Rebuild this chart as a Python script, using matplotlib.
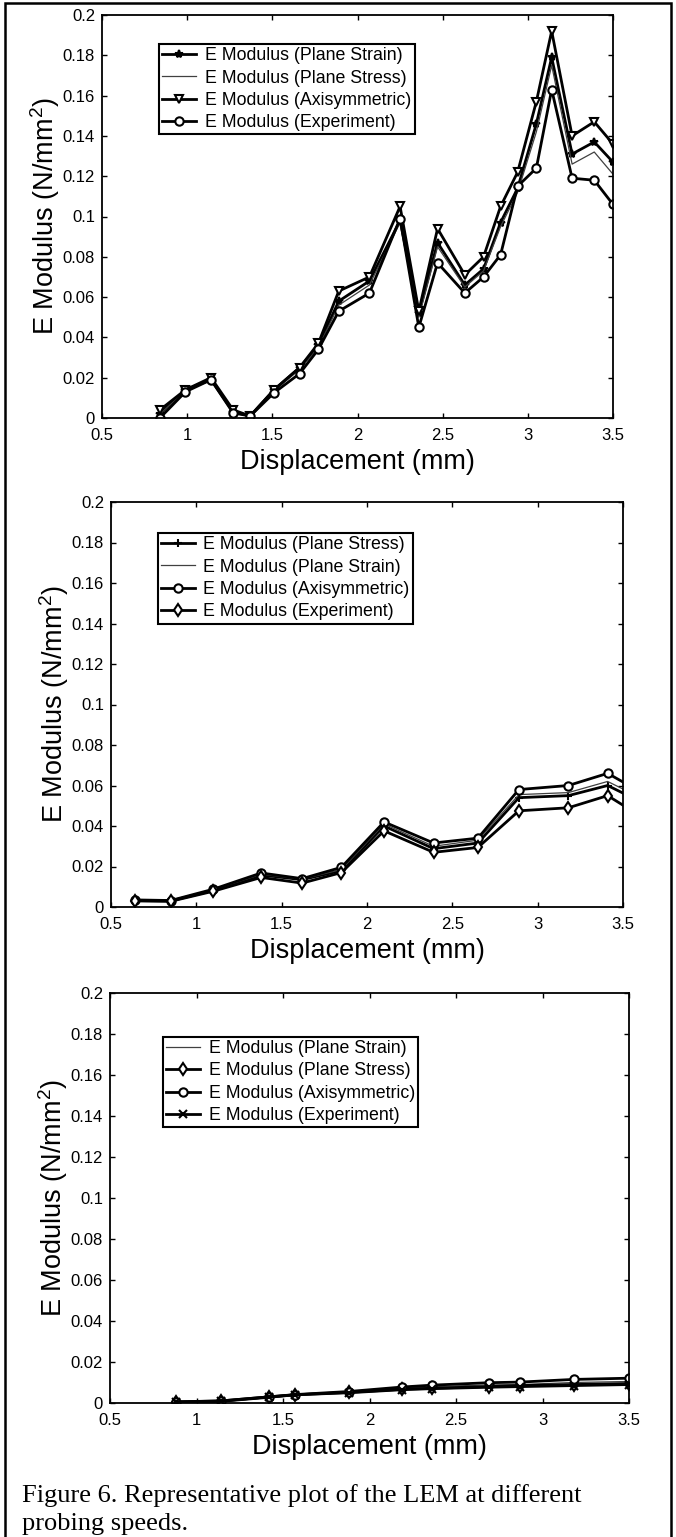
import matplotlib
matplotlib.use("Agg")
import matplotlib.pyplot as plt
from matplotlib.patches import Rectangle
from matplotlib.ticker import FormatStrFormatter, MultipleLocator

plt.rcParams['font.family'] = ['Liberation Sans', 'DejaVu Sans']
plt.rcParams['mathtext.fontset'] = 'custom'
plt.rcParams['mathtext.rm'] = 'Liberation Sans'
plt.rcParams['mathtext.it'] = 'Liberation Sans:italic'

# top panel
x_top = [0.84, 0.99, 1.14, 1.27, 1.37, 1.51, 1.66, 1.77, 1.89, 2.07, 2.25,
         2.36, 2.47, 2.63, 2.74, 2.84, 2.94, 3.05, 3.14, 3.26, 3.39, 3.50]
strain_top = [0.002, 0.014, 0.019, 0.003, 0.001, 0.014, 0.025, 0.036, 0.058, 0.068, 0.098,
              0.052, 0.087, 0.066, 0.074, 0.097, 0.114, 0.146, 0.179, 0.131, 0.137, 0.127]
stress_top = [0.002, 0.0135, 0.019, 0.003, 0.001, 0.0135, 0.024, 0.035, 0.056, 0.066, 0.097,
              0.050, 0.085, 0.065, 0.073, 0.095, 0.112, 0.142, 0.175, 0.126, 0.132, 0.121]
axi_top = [0.004, 0.014, 0.020, 0.004, 0.001, 0.014, 0.025, 0.037, 0.063, 0.070, 0.105,
           0.053, 0.094, 0.071, 0.080, 0.105, 0.122, 0.157, 0.192, 0.140, 0.147, 0.136]
exp_top = [0.000, 0.013, 0.019, 0.0025, 0.001, 0.0125, 0.022, 0.034, 0.053, 0.062, 0.099,
           0.045, 0.077, 0.062, 0.070, 0.081, 0.115, 0.124, 0.163, 0.119, 0.118, 0.106]

# middle panel (last point lies past the axis edge)
x_mid = [0.64, 0.85, 1.10, 1.38, 1.62, 1.85, 2.10, 2.39, 2.65, 2.89, 3.18, 3.41, 3.65]
stress_mid = [0.0032, 0.0030, 0.0082, 0.0158, 0.0135, 0.0180, 0.0400, 0.0288, 0.0316,
              0.0540, 0.0550, 0.0600, 0.0500]
strain_mid = [0.0033, 0.0031, 0.0084, 0.0162, 0.0138, 0.0185, 0.0410, 0.0300, 0.0330,
              0.0555, 0.0565, 0.0620, 0.0520]
axi_mid = [0.0035, 0.0032, 0.0088, 0.0168, 0.0140, 0.0196, 0.0420, 0.0316, 0.0340,
           0.0580, 0.0600, 0.0660, 0.0546]
exp_mid = [0.0030, 0.0028, 0.0078, 0.0146, 0.0118, 0.0170, 0.0376, 0.0270, 0.0294,
           0.0475, 0.0490, 0.0550, 0.0424]

# bottom panel
x_bot = [0.88, 1.14, 1.42, 1.57, 1.88, 2.19, 2.36, 2.69, 2.87, 3.18, 3.50]
strain_bot = [0.0005, 0.0010, 0.0030, 0.0040, 0.0055, 0.0073, 0.0080, 0.0088, 0.0090, 0.0100, 0.0105]
stress_bot = [0.0004, 0.0008, 0.0028, 0.0040, 0.0052, 0.0067, 0.0072, 0.0080, 0.0085, 0.0090, 0.0095]
axi_bot = [0.0006, 0.0010, 0.0030, 0.0041, 0.0056, 0.0078, 0.0087, 0.0099, 0.0102, 0.0115, 0.0121]
exp_bot = [0.0005, 0.0010, 0.0030, 0.0040, 0.0050, 0.0065, 0.0070, 0.0077, 0.0080, 0.0085, 0.0090]

W, H = 676, 1537
fig = plt.figure(figsize=(W / 100, H / 100), dpi=100)

thick = dict(color='black', lw=2.0, ms=6, mew=1.5)
thin = dict(color='0.25', lw=0.9)


def setup(ax):
    ax.set_xlim(0.5, 3.5)
    ax.set_ylim(0, 0.2)
    ax.xaxis.set_major_locator(MultipleLocator(0.5))
    ax.yaxis.set_major_locator(MultipleLocator(0.02))
    ax.xaxis.set_major_formatter(FormatStrFormatter('%g'))
    ax.yaxis.set_major_formatter(FormatStrFormatter('%g'))
    ax.tick_params(direction='in', top=True, right=True, length=3.6, width=1,
                   labelsize=12, pad=5)
    ax.tick_params(axis='x', pad=7)
    for s in ax.spines.values():
        s.set_linewidth(1.3)
    ax.set_xlabel('Displacement (mm)', fontsize=19.5, labelpad=4.5)
    ax.set_ylabel('E Modulus (N/mm$^2$)', fontsize=19.5, labelpad=0.5)


def legend(ax, x0, y0):
    leg = ax.legend(loc='upper left', bbox_to_anchor=(x0, y0), borderaxespad=0,
                    fontsize=12.8, fancybox=False, edgecolor='black', framealpha=1,
                    handlelength=1.9, handletextpad=0.5, labelspacing=0.3,
                    borderpad=0.18)
    leg.get_frame().set_linewidth(1.5)


def px_axes(l, t, r, b):
    return fig.add_axes([l / W, 1 - b / H, (r - l) / W, (b - t) / H])


ax1 = px_axes(102, 15, 613, 418)
ax1.plot(x_top, strain_top, marker='*', label='E Modulus (Plane Strain)', **thick)
ax1.plot(x_top, stress_top, label='E Modulus (Plane Stress)', **thin)
ax1.plot(x_top, axi_top, marker='v', mfc='white', label='E Modulus (Axisymmetric)', **thick)
ax1.plot(x_top, exp_top, marker='o', mfc='white', label='E Modulus (Experiment)', **thick)
setup(ax1)
legend(ax1, 0.112, 0.928)

ax2 = px_axes(111, 502, 623, 907)
ax2.plot(x_mid, stress_mid, marker='+', label='E Modulus (Plane Stress)', **thick)
ax2.plot(x_mid, strain_mid, label='E Modulus (Plane Strain)', **thin)
ax2.plot(x_mid, axi_mid, marker='o', mfc='white', label='E Modulus (Axisymmetric)', **thick)
ax2.plot(x_mid, exp_mid, marker='d', mfc='white', label='E Modulus (Experiment)', **thick)
setup(ax2)
legend(ax2, 0.091, 0.923)

ax3 = px_axes(110, 993, 629, 1403)
ax3.plot(x_bot, strain_bot, label='E Modulus (Plane Strain)', **thin)
ax3.plot(x_bot, stress_bot, marker='d', mfc='white', label='E Modulus (Plane Stress)', **thick)
ax3.plot(x_bot, axi_bot, marker='o', mfc='white', label='E Modulus (Axisymmetric)', **thick)
ax3.plot(x_bot, exp_bot, marker='x', label='E Modulus (Experiment)', **thick)
setup(ax3)
legend(ax3, 0.102, 0.893)

# caption
fig.text(22 / W, 1 - 1502 / H, 'Figure 6. Representative plot of the LEM at different',
         family='Liberation Serif', fontsize=19, va='baseline')
fig.text(22 / W, 1 - 1530 / H, 'probing speeds.',
         family='Liberation Serif', fontsize=19, va='baseline')

# outer frame
fig.patches.append(Rectangle((5 / W, -0.01), (671 - 5) / W, 1.01 - 3 / H,
                             transform=fig.transFigure, fill=False,
                             edgecolor='black', lw=1.8))

fig.savefig('out.png', dpi=100)
